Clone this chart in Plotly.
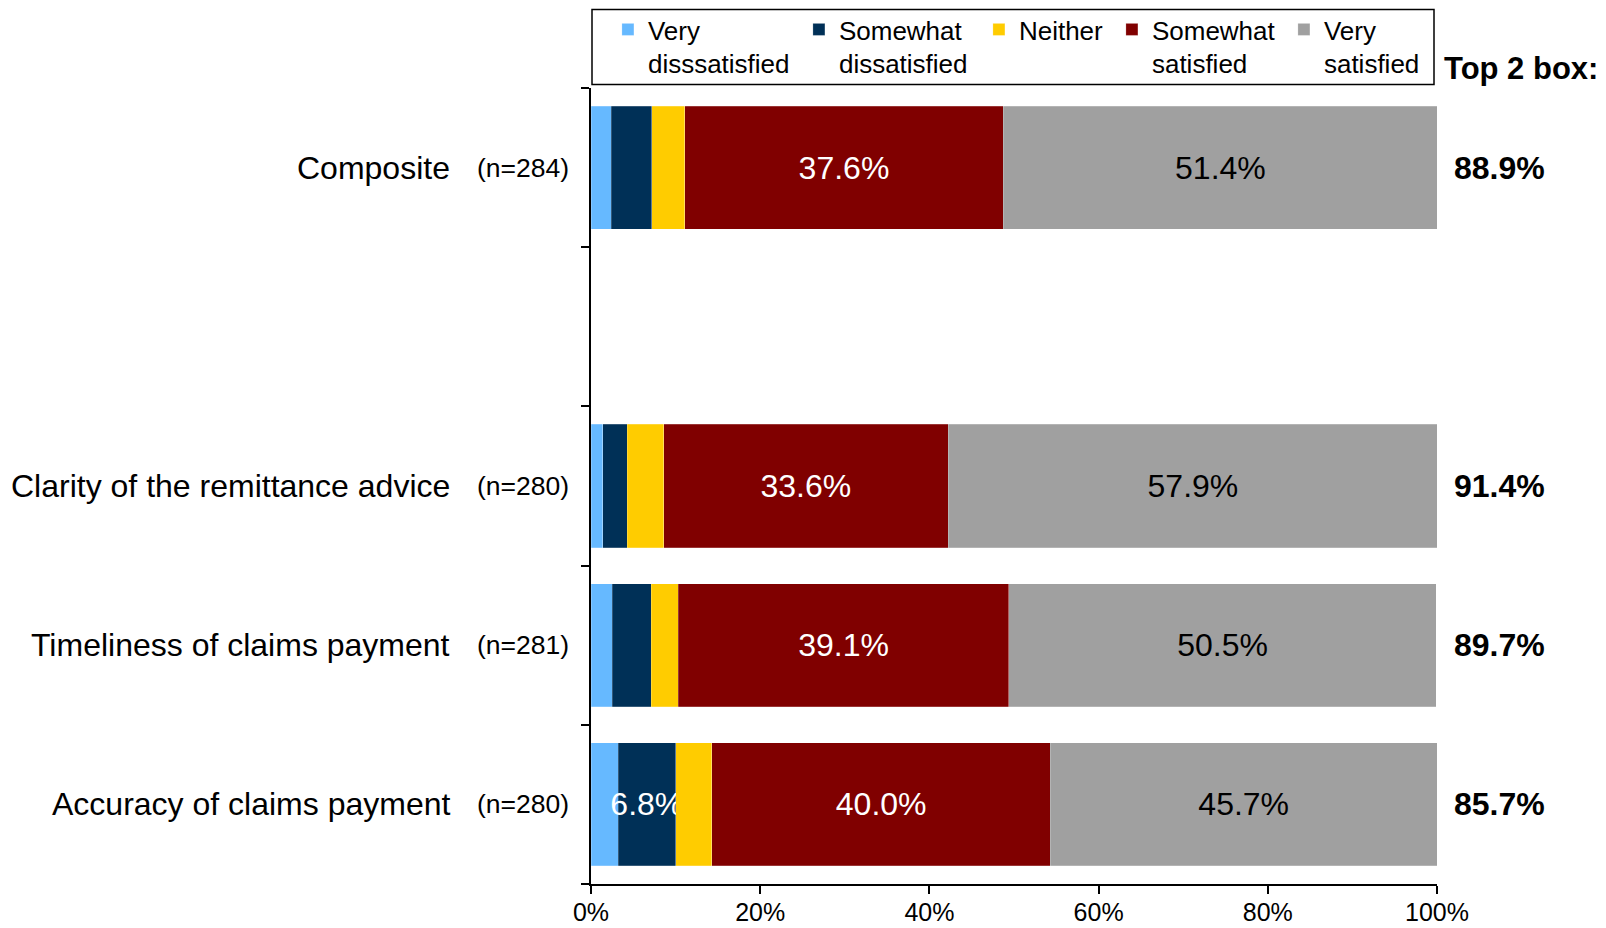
import plotly.graph_objects as go

# ---------------- data ----------------
categories = [
    "Composite",
    "Clarity of the remittance advice",
    "Timeliness of claims payment",
    "Accuracy of claims payment",
]
sample_sizes = [284, 280, 281, 280]
# slot index of each category on the axis (slot 1 is an intentional blank gap)
category_slots = [0, 2, 3, 4]

series_names = [
    "Very<br>disssatisfied",
    "Somewhat<br>dissatisfied",
    "Neither",
    "Somewhat<br>satisfied",
    "Very<br>satisfied",
]
very_dissatisfied = [2.4, 1.4, 2.5, 3.2]
somewhat_dissatisfied = [4.8, 2.9, 4.6, 6.8]
neither = [3.9, 4.3, 3.2, 4.3]
somewhat_satisfied = [37.6, 33.6, 39.1, 40.0]
very_satisfied = [51.4, 57.9, 50.5, 45.7]
top2_box = [88.9, 91.4, 89.7, 85.7]

x_ticks = [0, 20, 40, 60, 80, 100]
x_tick_labels = [f"{v}%" for v in x_ticks]

# ---------------- styling ----------------
FONT = "Liberation Sans, Arial, sans-serif"
colors = ["#66B9FF", "#003057", "#FFCC00", "#800000", "#A0A0A0"]
text_colors = ["white", "white", "black", "white", "black"]
legend_widths = [146, 135, 88, 127, 95]
series_values = [very_dissatisfied, somewhat_dissatisfied, neither,
                 somewhat_satisfied, very_satisfied]

fig = go.Figure()
for name, vals, col, tcol, lw in zip(series_names, series_values, colors,
                                     text_colors, legend_widths):
    fig.add_trace(go.Bar(
        y=category_slots,
        x=vals,
        orientation="h",
        name=name,
        marker=dict(color=col, line=dict(width=0.6, color="rgba(255,255,255,0.35)")),
        text=[f"{v:.1f}%" if v >= 5 else "" for v in vals],
        textposition="inside",
        insidetextanchor="middle",
        constraintext="none",
        textangle=0,
        textfont=dict(family=FONT, size=32, color=tcol),
        legendwidth=lw,
        hoverinfo="x+y",
    ))

annotations = []
for cat, n, t2, slot in zip(categories, sample_sizes, top2_box, category_slots):
    annotations.append(dict(
        text=cat, xref="paper", x=0, yref="y", y=slot,
        xanchor="right", yanchor="middle", xshift=-139, showarrow=False,
        font=dict(family=FONT, size=32, color="black"),
    ))
    annotations.append(dict(
        text=f"(n={n})", xref="paper", x=0, yref="y", y=slot,
        xanchor="right", yanchor="middle", xshift=-20, showarrow=False,
        font=dict(family=FONT, size=26.5, color="black"),
    ))
    annotations.append(dict(
        text=f"<b>{t2:.1f}%</b>", xref="paper", x=1, yref="y", y=slot,
        xanchor="center", yanchor="middle", xshift=62, showarrow=False,
        font=dict(family=FONT, size=32, color="black"),
    ))
annotations.append(dict(
    text="<b>Top 2 box:</b>", xref="paper", x=1, yref="paper", y=1,
    xanchor="left", yanchor="middle", xshift=5, yshift=20, showarrow=False,
    font=dict(family=FONT, size=31, color="black"),
))

# the page body adds an 8px offset, so the figure is sized to fit the window
fig.update_layout(
    width=1598, height=920,
    margin=dict(l=583, r=169, t=80, b=44, pad=0, autoexpand=False),
    paper_bgcolor="white", plot_bgcolor="white",
    barmode="stack", bargap=0.227,
    font=dict(family=FONT, color="black"),
    showlegend=True,
    legend=dict(
        orientation="h", x=0.020, xanchor="left", y=1.103, yanchor="top",
        yref="paper", borderwidth=0, bgcolor="rgba(0,0,0,0)",
        font=dict(family=FONT, size=26, color="black"),
        valign="top", traceorder="normal", itemclick=False,
    ),
    xaxis=dict(
        range=[0, 100], tickmode="array", tickvals=x_ticks,
        ticktext=x_tick_labels,
        ticks="outside", ticklen=8, tickwidth=1.5, tickcolor="black",
        ticklabelstandoff=-3,
        showline=True, linecolor="black", linewidth=1.5,
        showgrid=False, zeroline=False,
        tickfont=dict(family=FONT, size=25, color="black"),
    ),
    yaxis=dict(
        range=[4.5, -0.5],
        tickvals=[-0.5, 0.5, 1.5, 2.5, 3.5, 4.5],
        ticktext=[""] * 6,
        ticks="outside", ticklen=8, tickwidth=1.5, tickcolor="black",
        showline=True, linecolor="black", linewidth=2,
        showgrid=False, zeroline=False,
    ),
    annotations=annotations,
    shapes=[dict(
        type="rect", xref="paper", yref="paper",
        xsizemode="pixel", ysizemode="pixel",
        xanchor=0, yanchor=1,
        x0=1, x1=843, y0=3.5, y1=78.5,
        line=dict(color="black", width=1.5), fillcolor="rgba(0,0,0,0)",
    )],
)

fig.write_html("out.html")
